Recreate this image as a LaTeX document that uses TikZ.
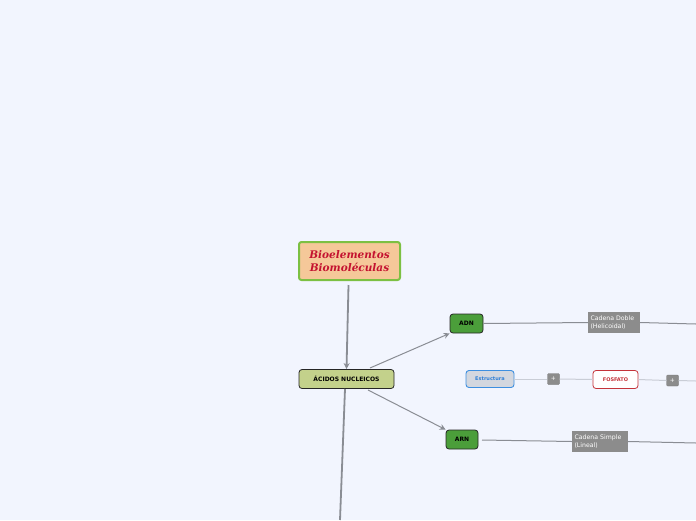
\documentclass[tikz,border=0pt]{standalone}
\usepackage{fontspec}
\setmainfont{DejaVu Sans}
\newfontfamily\rootfont{DejaVu Serif}
\usetikzlibrary{arrows.meta}
\definecolor{bg}{HTML}{F2F5FE}
\definecolor{conn}{HTML}{8A8D94}
\definecolor{lightconn}{HTML}{C9CDD6}
\definecolor{rootfill}{HTML}{F5C899}
\definecolor{rootborder}{HTML}{7CC043}
\definecolor{roottext}{HTML}{C41230}
\definecolor{acfill}{HTML}{C3D18B}
\definecolor{greenfill}{HTML}{4B9E3A}
\definecolor{labelfill}{HTML}{8C8C8C}
\definecolor{estfill}{HTML}{D3D7DF}
\definecolor{estborder}{HTML}{3D8FE0}
\definecolor{esttext}{HTML}{2F7FD6}
\definecolor{fosborder}{HTML}{C4333A}
\tikzset{
  x=1pt,y=-1pt,
  rootbox/.style={draw=rootborder,line width=2pt,fill=rootfill,rounded corners=2.5pt,minimum width=101pt,minimum height=38pt,inner sep=0pt,align=center,font=\rootfont\bfseries\itshape\fontsize{10.5}{12.5}\selectfont,text=roottext},
  topicbox/.style={draw=black!85,line width=0.8pt,rounded corners=3pt,inner sep=0pt,font=\bfseries\fontsize{6}{7}\selectfont,text=black},
  tag/.style={fill=labelfill,inner sep=0pt,align=left,font=\fontsize{6.2}{8}\selectfont,text=white},
  plus/.style={fill=labelfill,draw=labelfill!80!black,line width=0.3pt,rounded corners=1pt,minimum width=12pt,minimum height=11pt,inner sep=0pt,font=\fontsize{6}{6}\selectfont,text=white},
  mainconn/.style={draw=conn,line width=1.8pt},
  conn/.style={draw=conn,line width=1pt},
  light/.style={draw=lightconn,line width=1pt},
  tip/.style={-{Stealth[length=6pt,width=6pt]}},
}
\begin{document}
\begin{tikzpicture}
\fill[bg] (0,0) rectangle (696,520);
\useasboundingbox (0,0) rectangle (696,520);
% nodes
\node[rootbox] (root) at (349.5,261) {Bioelementos\\Biomoléculas};
\node[topicbox,fill=acfill,minimum width=95pt,minimum height=19pt] (ac) at (346.5,379) {ÁCIDOS NUCLEICOS};
\node[topicbox,fill=greenfill,minimum width=33pt,minimum height=19pt] (adn) at (466.5,323.5) {ADN};
\node[topicbox,fill=greenfill,minimum width=32pt,minimum height=19pt] (arn) at (462,439.5) {ARN};
\node[tag,minimum width=52pt,minimum height=21pt,text width=47pt] (cd) at (614,322.5) {Cadena Doble\\(Helicoidal)};
\node[tag,minimum width=56pt,minimum height=21pt,text width=51pt] (cs) at (600,441.5) {Cadena Simple\\(Lineal)};
\node[draw=estborder,line width=0.9pt,fill=estfill,rounded corners=3pt,minimum width=48pt,minimum height=17pt,inner sep=0pt,font=\bfseries\fontsize{5}{6}\selectfont,text=esttext] (est) at (490,379) {Estructura};
\node[plus] (p1) at (553.5,379) {+};
\node[draw=fosborder,line width=0.8pt,fill=white,rounded corners=3pt,minimum width=45pt,minimum height=18pt,inner sep=0pt,font=\bfseries\fontsize{5}{6}\selectfont,text=fosborder] (fos) at (615.5,379.5) {FOSFATO};
\node[plus] (p2) at (672.5,380.5) {+};
\coordinate (adnend) at (696,324);
\coordinate (arnend) at (696,443);
\coordinate (estend) at (696,381);
\coordinate (rootout) at (348.5,285);
\coordinate (acdown) at (340,520);
\coordinate (acdownstart) at (345,389);
\coordinate (acadn) at (370,368);
\coordinate (acarn) at (368,390);
\coordinate (arnout) at (482,440);
% connectors
\draw[mainconn,tip] (rootout) -- (ac.north);
\draw[mainconn] (acdownstart) -- (acdown);
\draw[conn,tip] (acadn) -- (adn.south west);
\draw[conn,tip] (acarn) -- (arn.north west);
\draw[conn] (adn.east) -- (cd.west);
\draw[conn] (cd.east) -- (adnend);
\draw[conn] (arnout) -- (cs.west);
\draw[conn] (cs.east) -- (arnend);
\draw[light] (est.east) -- (p1.west);
\draw[light] (p1.east) -- (fos.west);
\draw[light] (fos.east) -- (p2.west);
\draw[light] (p2.east) -- (estend);
\end{tikzpicture}
\end{document}
